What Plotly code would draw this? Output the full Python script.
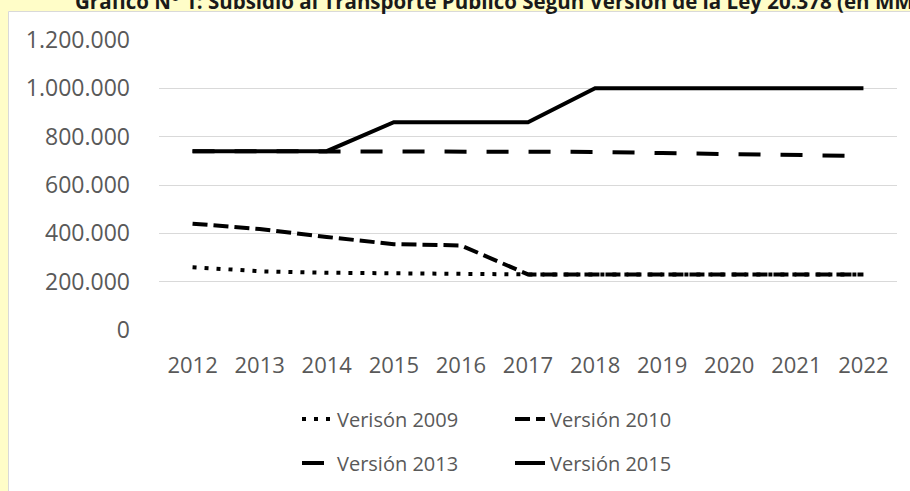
import plotly.graph_objects as go

years = ["2012", "2013", "2014", "2015", "2016", "2017", "2018", "2019", "2020", "2021", "2022"]
v2009 = [260000, 243000, 237000, 234000, 232000, 230000, 230000, 230000, 230000, 230000, 230000]
v2010 = [440000, 418000, 385000, 355000, 350000, 230000, 230000, 230000, 230000, 230000, 230000]
v2013 = [740000, 740000, 740000, 740000, 740000, 740000, 737000, 732000, 727000, 723000, 720000]
v2015 = [740000, 740000, 740000, 860000, 860000, 860000, 1000000, 1000000, 1000000, 1000000, 1000000]
y_ticks = [0, 200000, 400000, 600000, 800000, 1000000, 1200000]
title = "Gráfico N° 1: Subsidio al Transporte Público Según Versión de la Ley 20.378 (en MM$)"

FONT = "Open Sans"
GRAY = "#595959"

fig = go.Figure()
fig.add_trace(go.Scatter(x=years, y=v2009, mode="lines", name="Verisón 2009",
                         line=dict(color="black", width=4, dash="4px,8px"), legend="legend"))
fig.add_trace(go.Scatter(x=years, y=v2010, mode="lines", name="Versión 2010",
                         line=dict(color="black", width=4, dash="15px,6px"), legend="legend"))
fig.add_trace(go.Scatter(x=years, y=v2013, mode="lines", name="Versión 2013",
                         line=dict(color="black", width=4, dash="22px,20px"), legend="legend2"))
fig.add_trace(go.Scatter(x=years, y=v2015, mode="lines", name="Versión 2015",
                         line=dict(color="black", width=4), legend="legend2"))

L, R, T, B = 159, 13, 40, 161
W, H = 910, 491
pw, ph = W - L - R, H - T - B

def px_x(x):
    return (x - L) / pw

def px_y(y):
    return (H - B - y) / ph

fig.add_shape(type="rect", xref="paper", yref="paper",
              x0=px_x(8.5), x1=px_x(920), y0=px_y(500), y1=px_y(11.5),
              fillcolor="white", line=dict(color="#D9D9D9", width=1), layer="below")

fig.add_annotation(text="<b>" + title + "</b>", xref="paper", yref="paper",
                   x=px_x(73), y=px_y(17), xanchor="left", yanchor="bottom",
                   showarrow=False, font=dict(family=FONT, size=20.5, color="#1a1a1a"))

fig.update_layout(
    width=W, height=H,
    margin=dict(l=L, r=R, t=T, b=B, autoexpand=False),
    paper_bgcolor="#FFFDC8",
    plot_bgcolor="white",
    separators=",.",
    font=dict(family=FONT, size=21, color=GRAY),
    xaxis=dict(type="category", showgrid=False, zeroline=False, showline=False,
               ticks="", tickfont=dict(size=22, color=GRAY), ticklabelstandoff=20,
               range=[-0.5, 10.5]),
    yaxis=dict(range=[0, 1200000], tickvals=y_ticks, tickformat=",.0f",
               showgrid=True, gridcolor="#D9D9D9", gridwidth=1, zeroline=False,
               showline=False, ticks="", tickfont=dict(size=23, color=GRAY),
               ticklabelstandoff=28),
    legend=dict(orientation="h", x=px_x(297), y=px_y(419), xanchor="left", yanchor="middle",
                font=dict(size=20, color=GRAY), bgcolor="rgba(0,0,0,0)", entrywidth=168),
    legend2=dict(orientation="h", x=px_x(297), y=px_y(463), xanchor="left", yanchor="middle",
                 font=dict(size=20, color=GRAY), bgcolor="rgba(0,0,0,0)", entrywidth=168),
    showlegend=True,
)

fig.write_html("out.html", config={"displayModeBar": False},
               post_script="document.body.style.margin='0px';")
